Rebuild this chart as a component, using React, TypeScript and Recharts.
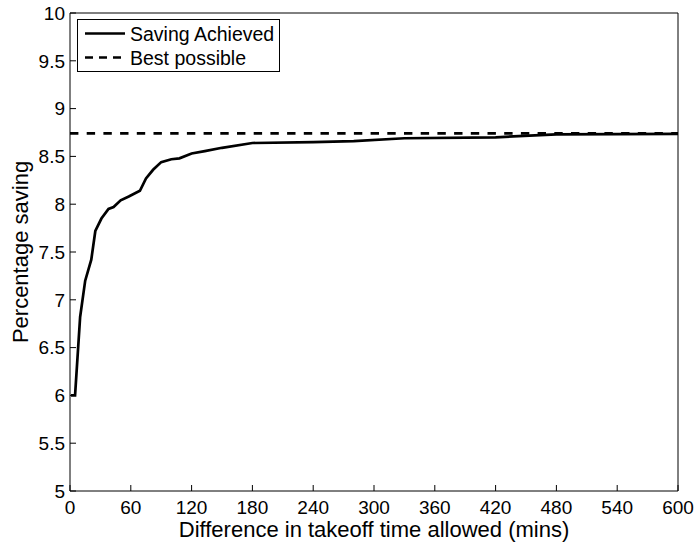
import React from "react";
import { LineChart, Line, XAxis, YAxis } from "recharts";

// minutes of takeoff-time difference allowed vs. percentage saving
const minutes = [1, 5, 10, 15, 21, 25, 31, 38, 43, 50, 58, 69, 75, 82, 90, 100, 108, 120, 133, 150, 180, 240, 280, 330, 420, 480, 600];
const saving = [6.0, 6.0, 6.82, 7.2, 7.42, 7.72, 7.85, 7.95, 7.97, 8.04, 8.08, 8.14, 8.27, 8.36, 8.44, 8.47, 8.48, 8.53, 8.555, 8.59, 8.64, 8.65, 8.66, 8.69, 8.7, 8.73, 8.735];

const bestMinutes = [0, 600];
const bestSaving = 8.74;

const xTicks = [0, 60, 120, 180, 240, 300, 360, 420, 480, 540, 600];
const yTicks = [5, 5.5, 6, 6.5, 7, 7.5, 8, 8.5, 9, 9.5, 10];

const achieved = minutes.map((m, i) => ({ m, v: saving[i] }));
const best = bestMinutes.map((m) => ({ m, v: bestSaving }));

const font = "'Liberation Sans', Arial, Helvetica, sans-serif";
const tickStyle = { fontSize: 19, fill: "#000", fontFamily: font };
const axisLine = { stroke: "#000", strokeWidth: 1 };

function LegendBox() {
  return (
    <div
      style={{
        position: "absolute",
        left: 77,
        top: 19,
        width: 201,
        height: 51,
        border: "1px solid #000",
        background: "#fff",
      }}
    >
      <svg width={201} height={51} style={{ position: "absolute", left: 0, top: 0 }}>
        <line x1={7} x2={47} y1={13.5} y2={13.5} stroke="#000" strokeWidth={2.7} />
        <line x1={7} x2={47} y1={37.5} y2={37.5} stroke="#000" strokeWidth={2.7} strokeDasharray="8 6" />
        <text x={52} y={20.5} fontSize={19.5} fontFamily={font}>Saving Achieved</text>
        <text x={52} y={44.5} fontSize={19.5} fontFamily={font}>Best possible</text>
      </svg>
    </div>
  );
}

export default function App() {
  return (
    <div style={{ position: "absolute", left: 0, top: 0, width: 695, height: 546, background: "#fff", fontFamily: font }}>
      <LineChart width={695} height={546} margin={{ top: 13, right: 17, left: 0, bottom: 0 }}>
        <XAxis
          xAxisId="b"
          dataKey="m"
          type="number"
          domain={[0, 600]}
          allowDataOverflow
          ticks={xTicks}
          interval={0}
          height={55}
          tick={tickStyle}
          tickSize={-6}
          tickMargin={16}
          tickLine={axisLine}
          axisLine={axisLine}
          label={{ value: "Difference in takeoff time allowed (mins)", position: "insideBottom", offset: 9, fontSize: 22, fill: "#000", fontFamily: font }}
        />
        <XAxis
          xAxisId="t"
          orientation="top"
          mirror
          type="number"
          domain={[0, 600]}
          allowDataOverflow
          ticks={xTicks}
          interval={0}
          tick={false}
          tickSize={6}
          tickLine={axisLine}
          axisLine={axisLine}
        />
        <YAxis
          yAxisId="l"
          type="number"
          domain={[5, 10]}
          allowDataOverflow
          ticks={yTicks}
          interval={0}
          width={70}
          tick={tickStyle}
          tickSize={-6}
          tickMargin={11}
          tickLine={axisLine}
          axisLine={axisLine}
          label={{ value: "Percentage saving", angle: -90, position: "center", dx: -15, fontSize: 22, fill: "#000", fontFamily: font }}
        />
        <YAxis
          yAxisId="r"
          orientation="right"
          mirror
          type="number"
          domain={[5, 10]}
          allowDataOverflow
          ticks={yTicks}
          interval={0}
          tick={false}
          tickSize={6}
          tickLine={axisLine}
          axisLine={axisLine}
        />
        <Line
          xAxisId="b"
          yAxisId="l"
          data={best}
          dataKey="v"
          type="linear"
          stroke="#000"
          strokeWidth={2.7}
          strokeDasharray="8.4 8.3"
          dot={false}
          activeDot={false}
          isAnimationActive={false}
        />
        <Line
          xAxisId="b"
          yAxisId="l"
          data={achieved}
          dataKey="v"
          type="linear"
          stroke="#000"
          strokeWidth={2.7}
          dot={false}
          activeDot={false}
          isAnimationActive={false}
        />
      </LineChart>
      <LegendBox />
    </div>
  );
}
